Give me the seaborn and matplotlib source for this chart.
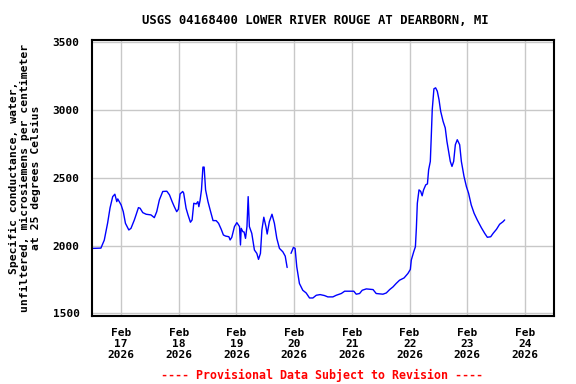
import seaborn as sns
import matplotlib.pyplot as plt
import pandas as pd

# --- Data ---
# hours since 2026-02-16 12:00, specific conductance (uS/cm)
hours_a = [0.3, 3.7, 5.1, 6.5, 7.5, 8.6, 9.5, 10.3, 10.7, 12.1, 13.0, 13.9, 15.3, 16.2,
           17.6, 18.3, 19.3, 20.0, 21.1, 22.5, 24.5, 25.9, 26.9, 28.0, 29.4, 31.1, 32.2,
           33.3, 34.2, 35.2, 35.9, 36.6, 37.7, 38.1, 39.1, 39.9, 40.9, 41.6, 42.3, 43.3,
           44.0, 44.4, 44.9, 45.5, 46.1, 46.6, 47.2, 48.2, 49.1, 50.3, 51.6, 52.6, 53.7,
           54.6, 55.5, 56.9, 57.4, 58.1, 59.2, 60.2, 61.3, 61.7, 62.0, 62.7, 63.2, 63.8,
           64.4, 64.9, 65.4, 66.4, 67.5, 68.5, 69.2, 70.0, 70.6, 71.4, 72.3, 72.8, 73.7,
           74.8, 75.8, 76.8, 77.9, 79.3, 80.3, 81.1]
values_a = [1979, 1981, 2040, 2167, 2278, 2361, 2379, 2324, 2344, 2300, 2250, 2164, 2115, 2127,
            2189, 2226, 2280, 2275, 2243, 2231, 2226, 2206, 2250, 2337, 2399, 2401, 2374,
            2324, 2287, 2250, 2268, 2381, 2399, 2387, 2275, 2226, 2172, 2189, 2312, 2307,
            2324, 2287, 2332, 2411, 2579, 2579, 2411, 2324, 2263, 2184, 2184, 2164, 2120,
            2078, 2070, 2065, 2041, 2061, 2140, 2169, 2140, 2004, 2127, 2102, 2100, 2053,
            2140, 2361, 2140, 2090, 1967, 1942, 1898, 1942, 2115, 2209, 2139, 2085, 2176,
            2231, 2164, 2053, 1979, 1954, 1922, 1838]

hours_b = [82.7, 83.7, 84.4, 85.1, 86.2, 87.6, 89.0, 90.4, 91.8, 93.2, 94.8, 96.6, 98.0,
           100.1, 101.5, 103.6, 105.0, 108.8, 109.8, 111.2, 112.3, 114.0, 116.8, 118.1,
           120.9, 122.3, 123.7, 125.1, 126.4, 127.8, 129.7, 131.3, 132.3, 132.7, 133.7,
           134.4, 134.8, 135.2, 135.9, 136.6, 137.2, 137.8, 138.7, 139.4, 139.9, 140.6,
           141.0, 141.4, 142.1, 142.8, 143.5, 144.2, 144.9, 145.9, 146.8, 147.5, 148.2,
           148.9, 149.6, 150.3, 151.0, 151.8, 152.8, 153.5, 154.6, 155.6, 156.5, 157.6,
           158.8, 160.1, 161.8, 163.2, 164.3, 165.7, 166.7, 168.1, 169.4, 170.8, 171.5]
values_b = [1942, 1986, 1979, 1843, 1720, 1670, 1650, 1613, 1613, 1633, 1638, 1631, 1621,
            1621, 1633, 1646, 1663, 1663, 1641, 1646, 1670, 1680, 1675, 1646,
            1641, 1650, 1675, 1695, 1720, 1744, 1761, 1794, 1824, 1893, 1954,
            1991, 2127, 2312, 2411, 2400, 2367, 2411, 2448, 2455, 2559, 2621,
            2807, 3003, 3157, 3164, 3139, 3078, 2991, 2917, 2868, 2769, 2695,
            2621, 2584, 2621, 2744, 2781, 2744, 2621, 2510, 2435, 2386, 2300,
            2238, 2189, 2132, 2090, 2061, 2065, 2090, 2120, 2157, 2176, 2189]

tick_days = ['2026-02-17', '2026-02-18', '2026-02-19', '2026-02-20',
             '2026-02-21', '2026-02-22', '2026-02-23', '2026-02-24']
y_ticks = [1500, 2000, 2500, 3000, 3500]

start = pd.Timestamp('2026-02-16 12:00')
df = pd.concat([
    pd.DataFrame({'hours': hours_a, 'value': values_a, 'seg': 0}),
    pd.DataFrame({'hours': hours_b, 'value': values_b, 'seg': 1}),
])
df['time'] = start + pd.to_timedelta(df['hours'], unit='h')

# --- Plot ---
sns.set_style('white')
plt.rcParams['font.family'] = ['DejaVu Sans Mono']
plt.rcParams['font.weight'] = 'bold'
plt.rcParams['text.color'] = 'black'
plt.rcParams['axes.labelcolor'] = 'black'
plt.rcParams['xtick.color'] = 'black'
plt.rcParams['ytick.color'] = 'black'

fig = plt.figure(figsize=(5.76, 3.84), dpi=100)
ax = fig.add_axes([92 / 576, 1 - 316 / 384, (554 - 92) / 576, (316 - 40) / 384])

# two runs of the record, with the gap on Feb 20 left open
sns.lineplot(data=df, x='time', y='value', units='seg', estimator=None,
             color='#0000ff', linewidth=1.0, ax=ax)

ax.set_xlim(start, pd.Timestamp('2026-02-24 12:00'))
ax.set_ylim(1480, 3517)

ticks = pd.to_datetime(tick_days)
ax.set_xticks(ticks)
ax.set_xticklabels([t.strftime('%b\n%d\n%Y') for t in ticks], fontsize=8, fontweight='bold',
                   linespacing=1.1)
ax.set_yticks(y_ticks)
ax.set_yticklabels([str(v) for v in y_ticks], fontsize=8, fontweight='bold')
ax.tick_params(length=0, pad=9)

ax.grid(True, color='#c8c8c8', linewidth=1.0)
for s in ax.spines.values():
    s.set_color('black')
    s.set_linewidth(1.5)

ax.set_xlabel('')
ax.set_ylabel('Specific conductance, water,\nunfiltered, microsiemens per centimeter\nat 25 degrees Celsius',
              fontsize=8.2, fontweight='bold', linespacing=1.15, labelpad=8)

fig.text(0.548, 1 - 20 / 384, 'USGS 04168400 LOWER RIVER ROUGE AT DEARBORN, MI',
         ha='center', va='center', fontsize=8.8, fontweight='bold')
fig.text(0.559, 1 - 375 / 384, '---- Provisional Data Subject to Revision ----',
         ha='center', va='center', fontsize=8.4, fontweight='bold', color='red')

plt.savefig('out.png', dpi=100)
